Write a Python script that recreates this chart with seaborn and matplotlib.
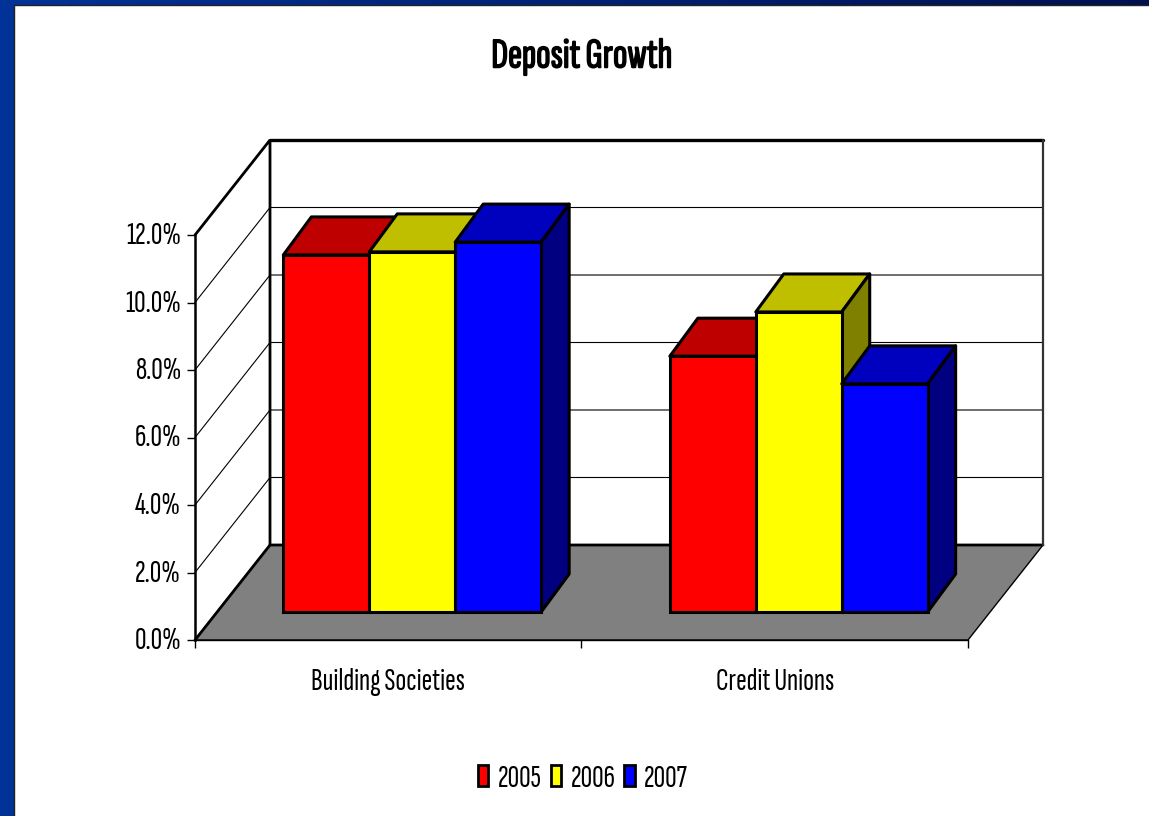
import numpy as np
import pandas as pd
import matplotlib
matplotlib.use('Agg')
import matplotlib.pyplot as plt
from matplotlib.patches import Patch, Polygon, Rectangle
from matplotlib.transforms import ScaledTranslation
import matplotlib.patheffects as pe
import seaborn as sns

# values (percent)
categories = ['Building Societies', 'Credit Unions']
years = ['2005', '2006', '2007']
growth_2005 = [10.58, 7.58]
growth_2006 = [10.67, 8.89]
growth_2007 = [10.96, 6.76]
y_ticks = [0, 2, 4, 6, 8, 10, 12]
y_labels = ['0.0%', '2.0%', '4.0%', '6.0%', '8.0%', '10.0%', '12.0%']
colors = ['#FF0000', '#FFFF00', '#0000FF']

W, H = 1149, 816

sns.set_style('white')
plt.rcParams['font.family'] = ['Sofia Sans Extra Condensed', 'Liberation Sans', 'DejaVu Sans']
plt.rcParams['text.color'] = 'black'
plt.rcParams['xtick.labelcolor'] = 'black'
plt.rcParams['ytick.labelcolor'] = 'black'

df = pd.DataFrame({
    'category': categories * 3,
    'year': np.repeat(years, 2),
    'growth': growth_2005 + growth_2006 + growth_2007,
})

fig = plt.figure(figsize=(W / 100, H / 100), dpi=100)

# slide background: blue gradient with a white panel on it
bg = fig.add_axes([0, 0, 1, 1])
gradient = np.linspace(0, 1, 256).reshape(1, -1)
cmap = matplotlib.colors.LinearSegmentedColormap.from_list('slide', ['#003399', '#00104F'])
bg.imshow(gradient, cmap=cmap, aspect='auto', extent=[0, W, H, 0])
bg.add_patch(Rectangle((14, 5), W, H, facecolor='white', edgecolor='#222222', linewidth=1))
bg.set_xlim(0, W)
bg.set_ylim(H, 0)
bg.axis('off')

# front plane of the chart, holds the axis
ax = fig.add_axes([195 / W, 1 - 640 / H, 773 / W, 405 / H], facecolor='none')
ax.set_xlim(-0.5, 1.5)
ax.set_ylim(0, 12)

# depth of the box in data units
dx = 75 / 773 * 2
dy = 95 / (405 / 12)
x0, x1 = -0.5, 1.5

ax.add_patch(Polygon([(x0, 0), (x1, 0), (x1 + dx, dy), (x0 + dx, dy)], facecolor='#808080',
                     edgecolor='black', linewidth=1, clip_on=False, zorder=1))
for t in y_ticks[1:-1]:
    ax.plot([x0, x0 + dx, x1 + dx], [t, t + dy, t + dy], color='black', lw=0.8, clip_on=False, zorder=1)
ax.plot([x0, x0 + dx, x0 + dx, x1 + dx], [12, 12 + dy, dy, dy],
        color='black', lw=2, clip_on=False, zorder=2, solid_joinstyle='miter')
ax.plot([x0 + dx, x1 + dx], [12 + dy, 12 + dy], color='black', lw=2.4, clip_on=False, zorder=2)
ax.plot([x0, x0 + dx], [0, dy], color='black', lw=2, clip_on=False, zorder=2)
ax.plot([x1 + dx, x1 + dx], [dy, 12 + dy], color='#333333', lw=1.6, clip_on=False, zorder=2)

ax.set_xticks([0, 1])
ax.set_xticklabels(categories, fontsize=23)
ax.set_xticks([-0.5, 0.5, 1.5], minor=True)
ax.tick_params(axis='x', which='major', length=0, pad=20)
ax.tick_params(axis='x', which='minor', length=6, width=1, color='black', bottom=True)
ax.set_yticks(y_ticks)
ax.set_yticklabels(y_labels, fontsize=23)
ax.tick_params(axis='y', length=6, width=1, color='black', left=True, pad=4)
# labels sit a touch above their ticks in the original
for label in ax.get_yticklabels():
    label.set_transform(label.get_transform() + ScaledTranslation(0, 2 / 100, fig.dpi_scale_trans))
for side in ['top', 'right']:
    ax.spines[side].set_visible(False)
ax.spines['left'].set_color('black')
ax.spines['left'].set_linewidth(1.8)
ax.spines['bottom'].set_color('black')
ax.spines['bottom'].set_linewidth(1)
ax.set_xlabel('')
ax.set_ylabel('')

# bars sit on a plane further back in the box
bar_ax = fig.add_axes([219 / W, 1 - 612 / H, 773 / W, 405 / H], facecolor='none')
sns.barplot(data=df, x='category', y='growth', hue='year', palette=colors, saturation=1,
            width=0.667, gap=0, edgecolor='black', linewidth=2.2, legend=False, ax=bar_ax)
bar_ax.set_xlim(-0.5, 1.5)
bar_ax.set_ylim(0, 12)
bar_ax.axis('off')

bar_dx = 28 / 773 * 2
bar_dy = 38 / (405 / 12)
for i, container in enumerate(bar_ax.containers):
    rgb = np.array(matplotlib.colors.to_rgb(colors[i]))
    for bar in container:
        left = bar.get_x()
        right = left + bar.get_width()
        top = bar.get_height()
        bar.set_zorder(3 + 2 * i + 1)
        bar.set_clip_on(False)
        bar_ax.add_patch(Polygon([(left, top), (right, top), (right + bar_dx, top + bar_dy), (left + bar_dx, top + bar_dy)],
                                 facecolor=rgb * 0.75, edgecolor='black', linewidth=2.2,
                                 clip_on=False, zorder=3 + 2 * i, joinstyle='round'))
        bar_ax.add_patch(Polygon([(right, 0), (right + bar_dx, bar_dy), (right + bar_dx, top + bar_dy), (right, top)],
                                 facecolor=rgb * 0.5, edgecolor='black', linewidth=2.2,
                                 clip_on=False, zorder=3 + 2 * i, joinstyle='round'))

handles = [Patch(facecolor=c, edgecolor='black', linewidth=2, label=y) for c, y in zip(colors, years)]
fig.legend(handles=handles, loc='center', bbox_to_anchor=(583 / W, 1 - 779 / H), ncol=3, frameon=False,
           fontsize=23, handlelength=0.32, handleheight=0.62, handletextpad=0.3, columnspacing=0.28,
           borderpad=0)

title = fig.text(582 / W, 1 - 57 / H, 'Deposit Growth', ha='center', va='center', fontsize=30.5, color='black')
title.set_path_effects([pe.withStroke(linewidth=1.1, foreground='black')])

fig.savefig('out.png', dpi=100)
